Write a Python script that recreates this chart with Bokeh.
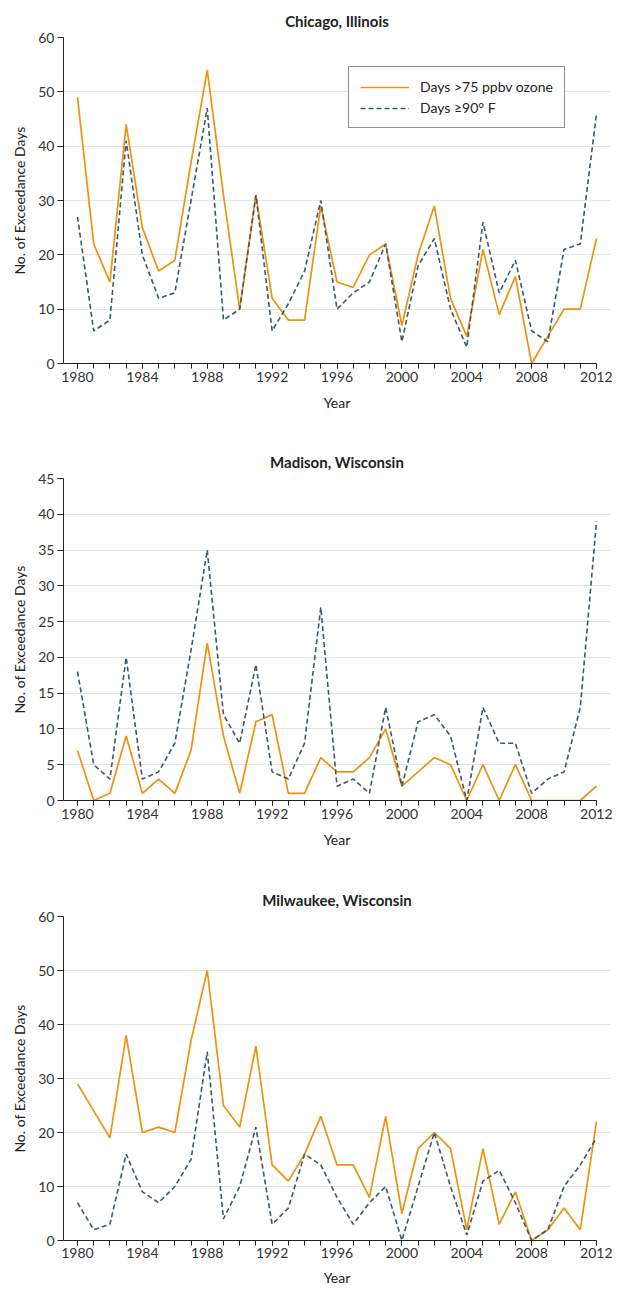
from bokeh.plotting import figure
from bokeh.layouts import column
from bokeh.models import Range1d, SingleIntervalTicker, Legend, LegendItem, ColumnDataSource
from bokeh.embed import file_html
from bokeh.resources import INLINE

years = list(range(1980, 2013))

chicago_ozone = [49, 22, 15, 44, 25, 17, 19, 37, 54, 31, 10, 31, 12, 8, 8, 29,
                 15, 14, 20, 22, 7, 20, 29, 12, 5, 21, 9, 16, 0, 5, 10, 10, 23]
chicago_heat = [27, 6, 8, 41, 20, 12, 13, 30, 47, 8, 10, 31, 6, 11, 17, 30,
                10, 13, 15, 22, 4, 18, 23, 10, 3, 26, 13, 19, 6, 4, 21, 22, 46]

madison_ozone = [7, 0, 1, 9, 1, 3, 1, 7, 22, 9, 1, 11, 12, 1, 1, 6,
                 4, 4, 6, 10, 2, 4, 6, 5, 0, 5, 0, 5, 0, 0, 0, 0, 2]
madison_heat = [18, 5, 3, 20, 3, 4, 8, 21, 35, 12, 8, 19, 4, 3, 8, 27,
                2, 3, 1, 13, 2, 11, 12, 9, 0, 13, 8, 8, 1, 3, 4, 13, 39]

milwaukee_ozone = [29, 24, 19, 38, 20, 21, 20, 37, 50, 25, 21, 36, 14, 11, 16, 23,
                   14, 14, 8, 23, 5, 17, 20, 17, 2, 17, 3, 9, 0, 2, 6, 2, 22]
milwaukee_heat = [7, 2, 3, 16, 9, 7, 10, 15, 35, 4, 10, 21, 3, 6, 16, 14,
                  8, 3, 7, 10, 0, 10, 20, 10, 1, 11, 13, 7, 0, 2, 10, 14, 19]

titles = ["Chicago, Illinois", "Madison, Wisconsin", "Milwaukee, Wisconsin"]
y_max = [60, 45, 60]
y_step = [10, 5, 10]
legend_labels = ["Days >75 ppbv ozone", "Days \u226590\u00b0 F"]
x_label = "Year"
y_label = "No. of Exceedance Days"

ORANGE = "#EC920F"
SLATE = "#3D5866"
FONT = "Lato"
TXT = "#333333"

x0 = 1980 - 14 / 16.22
x1 = 2012 + 14 / 16.22


def make_panel(title, ozone, heat, ymax, ystep, height, top, bottom,
               legend=False, lab_so=3, ax_so=9):
    p = figure(width=612, height=height, output_backend="svg", toolbar_location=None,
               x_range=Range1d(x0, x1), y_range=Range1d(0, ymax),
               min_border_left=63, min_border_right=2,
               min_border_top=top, min_border_bottom=bottom)
    p.outline_line_color = None
    p.title.text = title
    p.title.align = "center"
    p.title.text_font = FONT
    p.title.text_font_style = "bold"
    p.title.text_font_size = "15px"
    p.title.text_color = "#222222"
    p.title.standoff = 16

    src = ColumnDataSource(dict(year=years, ozone=ozone, heat=heat))
    r1 = p.line("year", "ozone", source=src, line_color=ORANGE, line_width=1.7)
    r2 = p.line("year", "heat", source=src, line_color=SLATE, line_width=1.6,
                line_dash="5 3")

    p.xgrid.visible = False
    p.ygrid.grid_line_color = "#e4e4e4"
    p.ygrid.grid_line_width = 1.2

    xa = p.xaxis[0]
    xa.ticker = SingleIntervalTicker(interval=4, num_minor_ticks=4)
    xa.bounds = (x0, 2012)
    xa.axis_label = x_label
    xa.major_tick_in = 0
    xa.major_tick_out = 5
    xa.minor_tick_in = 0
    xa.minor_tick_out = 5
    xa.major_label_standoff = lab_so
    xa.axis_label_standoff = ax_so
    xa.minor_tick_line_color = "#222222"

    ya = p.yaxis[0]
    ya.ticker = SingleIntervalTicker(interval=ystep)
    ya.axis_label = y_label
    ya.major_tick_in = 0
    ya.major_tick_out = 6
    ya.minor_tick_line_color = None
    ya.major_label_standoff = 3
    ya.axis_label_standoff = 7

    for ax in (xa, ya):
        ax.axis_line_color = "#222222"
        ax.major_tick_line_color = "#222222"
        ax.major_label_text_font = FONT
        ax.major_label_text_font_size = "14px"
        ax.major_label_text_color = TXT
        ax.axis_label_text_font = FONT
        ax.axis_label_text_font_size = "14px"
        ax.axis_label_text_font_style = "normal"
        ax.axis_label_text_color = "#222222"

    if legend:
        lg = Legend(items=[LegendItem(label=legend_labels[0], renderers=[r1]),
                           LegendItem(label=legend_labels[1], renderers=[r2])],
                    location=(285, 235))
        lg.border_line_color = "#222222"
        lg.border_line_width = 1
        lg.background_fill_alpha = 1
        lg.margin = 0
        lg.padding = 11
        lg.spacing = 4
        lg.label_height = 16
        lg.glyph_height = 16
        lg.glyph_width = 49
        lg.label_standoff = 11
        lg.label_text_font = FONT
        lg.label_text_font_size = "14px"
        lg.label_text_color = "#222222"
        p.add_layout(lg, "center")
    return p


p1 = make_panel(titles[0], chicago_ozone, chicago_heat, y_max[0], y_step[0], 442, 37, 79, legend=True)
p2 = make_panel(titles[1], madison_ozone, madison_heat, y_max[1], y_step[1], 438, 33, 80)
p3 = make_panel(titles[2], milwaukee_ozone, milwaukee_heat, y_max[2], y_step[2], 408, 34, 48,
                lab_so=2, ax_so=8)

layout = column(p1, p2, p3, spacing=0)
open("out.html", "w").write(file_html(layout, INLINE))
